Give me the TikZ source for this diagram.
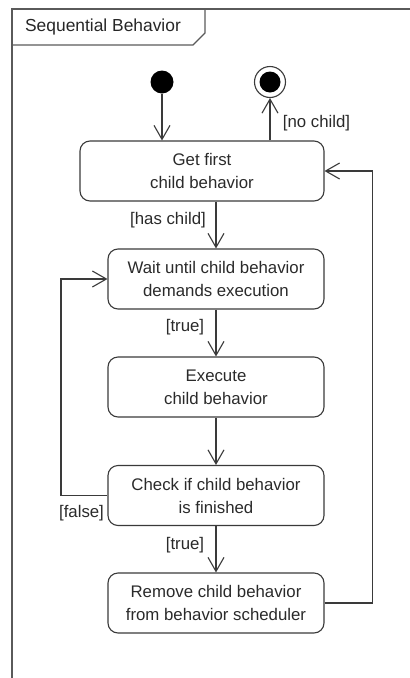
\documentclass[tikz,border=0pt]{standalone}
\usepackage{fontspec}
\setmainfont{Liberation Sans}
\usetikzlibrary{arrows.meta,calc}
\definecolor{ln}{HTML}{3A3A3A}
\definecolor{fr}{HTML}{5A5A5A}
\definecolor{tx}{HTML}{2A2A2A}
\tikzset{
  act/.style={draw=ln, line width=1.1pt, rounded corners=10pt, align=center,
    text=tx, font=\fontsize{16.8}{23}\selectfont, inner sep=0pt},
  lbl/.style={text=tx, font=\fontsize{16.8}{23}\selectfont, inner sep=0pt},
  arr/.style={draw=ln, line width=1.1pt, -{Straight Barb[length=14pt,width=16pt,line width=1.1pt]}},
}
\begin{document}
\begin{tikzpicture}[x=1pt,y=-1pt]
\useasboundingbox (0,0) rectangle (410,678);
% frame
\draw[fr, line width=1.5pt] (12,680) -- (12,9) -- (412,9);
\draw[fr, line width=1.2pt] (12,45) -- (193,45) -- (205,33) -- (205,9);
\node[lbl, font=\fontsize{17.4}{20}\selectfont, text=black!85] (title) at (103,27) {Sequential Behavior};
% start/end
\node[circle, fill=black, minimum size=23pt, inner sep=0pt] (init) at (162,82) {};
\node[circle, draw=ln, line width=1.1pt, minimum size=31pt, inner sep=0pt] (fin) at (270,82) {};
\node[circle, fill=black, minimum size=21pt, inner sep=0pt] (finin) at (fin) {};
% activities
\node[act, minimum width=244pt, minimum height=60pt] (b1) at (202,171) {Get first\\child behavior};
\node[act, minimum width=216pt, minimum height=60pt] (b2) at (216,279) {Wait until child behavior\\demands execution};
\node[act, minimum width=216pt, minimum height=60pt] (b3) at (216,387) {Execute\\child behavior};
\node[act, minimum width=216pt, minimum height=60pt] (b4) at (216,495.5) {Check if child behavior\\is finished};
\node[act, minimum width=216pt, minimum height=60pt] (b5) at (216,603) {Remove child behavior\\from behavior scheduler};
% labels
\node[lbl] (l1) at (316.5,123) {[no child]};
\node[lbl] (l2) at (168,220) {[has child]};
\node[lbl] (l3) at (185,327) {[true]};
\node[lbl] (l4) at (81.5,513) {[false]};
\node[lbl] (l5) at (185,545) {[true]};
% coordinates
\coordinate (cl) at (61,495.5);
\coordinate (cr) at (372.5,603);
% connectors
\draw[arr] (init) -- (init |- b1.north);
\draw[arr] (b1.north -| fin) -- (fin);
\draw[arr] (b2.north |- b1.south) -- (b2.north);
\draw[arr] (b2.south) -- (b3.north);
\draw[arr] (b3.south) -- (b4.north);
\draw[arr] (b4.south) -- (b5.north);
\draw[arr] (b4.west) -- (cl) |- (b2.west);
\draw[arr] (b5.east) -- (cr) |- (b1.east);
\end{tikzpicture}
\end{document}
